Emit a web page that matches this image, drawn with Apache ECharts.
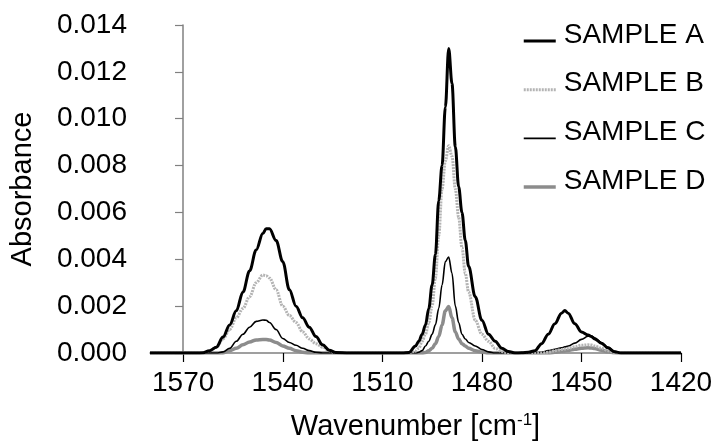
<!DOCTYPE html>
<html>
<head>
<meta charset="utf-8">
<script src="https://cdn.jsdelivr.net/npm/echarts@6/dist/echarts.min.js"></script>
<style>html,body{margin:0;padding:0;background:#fff}#c{width:717px;height:441px}</style>
</head>
<body>
<div id="c"></div>
<script>
var wavenumber = [1580,1570,1566,1564,1562,1560,1558,1556,1554,1552,1550,1548,1546,1545,1544,1542,1540,1538,1536,1534,1532,1530,1528,1526,1524,1520,1510,1504,1502,1500,1499,1498,1497,1496,1495,1494,1493,1492,1491,1490,1489,1488,1487,1486,1485,1484,1482,1480,1478,1476,1474,1472,1470,1468,1466,1464,1462,1460,1458,1456,1455,1454,1452,1450,1448,1447,1446,1444,1442,1440,1438,1430,1420];
var sampleA = [0,0,0,0.00001,0.0001,0.00025,0.00068,0.0012,0.0018,0.0026,0.0035,0.0044,0.0051,0.0053,0.0053,0.0048,0.0039,0.0027,0.0020,0.0015,0.0011,0.0007,0.00035,0.00012,0.00002,0,0,0,0.00002,0.0003,0.0005,0.0008,0.0012,0.0019,0.0029,0.0042,0.0065,0.0080,0.0105,0.0130,0.0115,0.0088,0.0071,0.0060,0.0048,0.0037,0.0024,0.0014,0.0008,0.0005,0.0002,0.00006,0,0.00001,0.00003,0.0001,0.0004,0.0008,0.00125,0.0017,0.00181,0.0017,0.00125,0.0009,0.00077,0.0007,0.0006,0.00042,0.00022,0.00005,0,0,0];
var sampleB = [0,0,0,0.00002,0.0001,0.00025,0.0006,0.0010,0.0015,0.0019,0.0024,0.0030,0.00333,0.0033,0.0032,0.0027,0.0020,0.0016,0.0013,0.0009,0.0006,0.0004,0.00025,0.0001,0,0,0,0,0,0.00008,0.0002,0.0005,0.0008,0.0013,0.0020,0.0032,0.0050,0.0070,0.0082,0.00885,0.0084,0.0070,0.0058,0.0045,0.0034,0.0026,0.0014,0.0008,0.0005,0.0002,0.00006,0,0,0,0,0,0,0.00003,0.0001,0.00015,0.00017,0.0002,0.00027,0.00033,0.00035,0.00034,0.0003,0.0002,0.0001,0.00003,0,0,0];
var sampleC = [0,0,0,0,0,0,0.00005,0.0002,0.0005,0.0008,0.0011,0.00135,0.00141,0.0014,0.0013,0.0010,0.00062,0.00045,0.00033,0.0002,0.0001,0.00003,0,0,0,0,0,0,0,0,0.00003,0.0001,0.0003,0.0005,0.0008,0.0012,0.0019,0.0029,0.0039,0.0041,0.0034,0.0020,0.0013,0.0008,0.0006,0.00045,0.0003,0.00015,0.00005,0,0,0,0,0,0,0,0.00003,0.0001,0.00016,0.00022,0.00026,0.0003,0.00042,0.00058,0.00072,0.00072,0.00065,0.00045,0.00024,0.00007,0,0,0];
var sampleD = [0,0,0,0,0,0,0,0.0001,0.0002,0.00035,0.00047,0.00056,0.00058,0.00058,0.00055,0.00045,0.0003,0.0002,0.0001,0.00003,0,0,0,0,0,0,0,0,0,0,0,0,0.00002,0.0001,0.0002,0.0004,0.0007,0.0012,0.0018,0.00198,0.0015,0.0009,0.0006,0.0004,0.0003,0.0002,0.0001,0.00004,0,0,0,0,0,0,0,0,0,0,0.00003,0.00007,0.00009,0.00011,0.00016,0.0002,0.00022,0.00021,0.00019,0.00012,0.00005,0.00001,0,0,0];
var xTicks = [1570,1540,1510,1480,1450,1420];
var sampleNames = ['SAMPLE A','SAMPLE B','SAMPLE C','SAMPLE D'];

function pairs(vals){ return wavenumber.map(function(w,i){ return [w, vals[i]]; }); }

var FONT = "'Liberation Sans', Arial, sans-serif";
var styles = {
  'SAMPLE A': {color:'#000000', width:3, type:'solid', z:5},
  'SAMPLE B': {color:'#b4b4b4', width:3, type:[2,1], z:4},
  'SAMPLE C': {color:'#000000', width:1.6, type:'solid', z:3},
  'SAMPLE D': {color:'#8c8c8c', width:3.5, type:'solid', z:2}
};
var chart = echarts.init(document.getElementById('c'));
function ser(name, vals){
  var s = styles[name];
  return {name:name, type:'line', data:pairs(vals), symbol:'none', showSymbol:false,
    smooth:0.35, smoothMonotone:'x', z:s.z,
    lineStyle:{color:s.color, width:s.width, type:s.type}, itemStyle:{color:s.color}};
}
chart.setOption({
  animation:false,
  backgroundColor:'#fff',
  grid:{left:150, right:36, top:25, bottom:88, outerBoundsMode:'none', containLabel:false},
  legend:{
    data:sampleNames.map(function(n){
      var s = styles[n];
      return {name:n, lineStyle:{color:s.color, width:s.width, type:s.type}};
    }),
    orient:'vertical', left:522, top:21, padding:0,
    itemWidth:32, itemHeight:14, itemGap:8.7,
    itemStyle:{opacity:0},
    formatter:function(n){ return '{t|' + n + '}'; },
    textStyle:{fontFamily:FONT, fontSize:28, color:'#000', padding:[0,0,0,3],
      rich:{t:{fontFamily:FONT, fontSize:28, color:'#000', lineHeight:30, padding:[0,0,12,0]}}}
  },
  xAxis:{
    type:'value', min:1420, max:1580, inverse:true,
    name:'Wavenumber [cm{sup|-1}]', nameLocation:'middle', nameGap:59,
    nameTextStyle:{fontFamily:FONT, fontSize:29, color:'#000', lineHeight:30,
      rich:{sup:{fontFamily:FONT, fontSize:17, verticalAlign:'top', lineHeight:14, color:'#000'}}},
    axisLine:{show:true, lineStyle:{color:'#808080', width:1.5}},
    axisTick:{show:true, inside:false, length:9, customValues:xTicks, lineStyle:{color:'#000', width:1.2}},
    axisLabel:{customValues:xTicks, fontFamily:FONT, fontSize:28, color:'#000', margin:16,
      formatter:function(v){ return String(v); }},
    splitLine:{show:false}
  },
  yAxis:{
    type:'value', min:0, max:0.014, interval:0.002, offset:-33,
    name:'Absorbance', nameLocation:'middle', nameGap:146, nameRotate:90,
    nameTextStyle:{fontFamily:FONT, fontSize:29, color:'#000'},
    axisLine:{show:true, lineStyle:{color:'#808080', width:1.5}},
    axisTick:{show:true, inside:false, length:8, lineStyle:{color:'#808080', width:1.2}},
    axisLabel:{fontFamily:FONT, fontSize:28, color:'#000', margin:56,
      formatter:function(v){ return v.toFixed(3); }},
    splitLine:{show:false}
  },
  series:[
    ser('SAMPLE D', sampleD),
    ser('SAMPLE C', sampleC),
    ser('SAMPLE B', sampleB),
    ser('SAMPLE A', sampleA)
  ]
});
</script>
</body>
</html>
